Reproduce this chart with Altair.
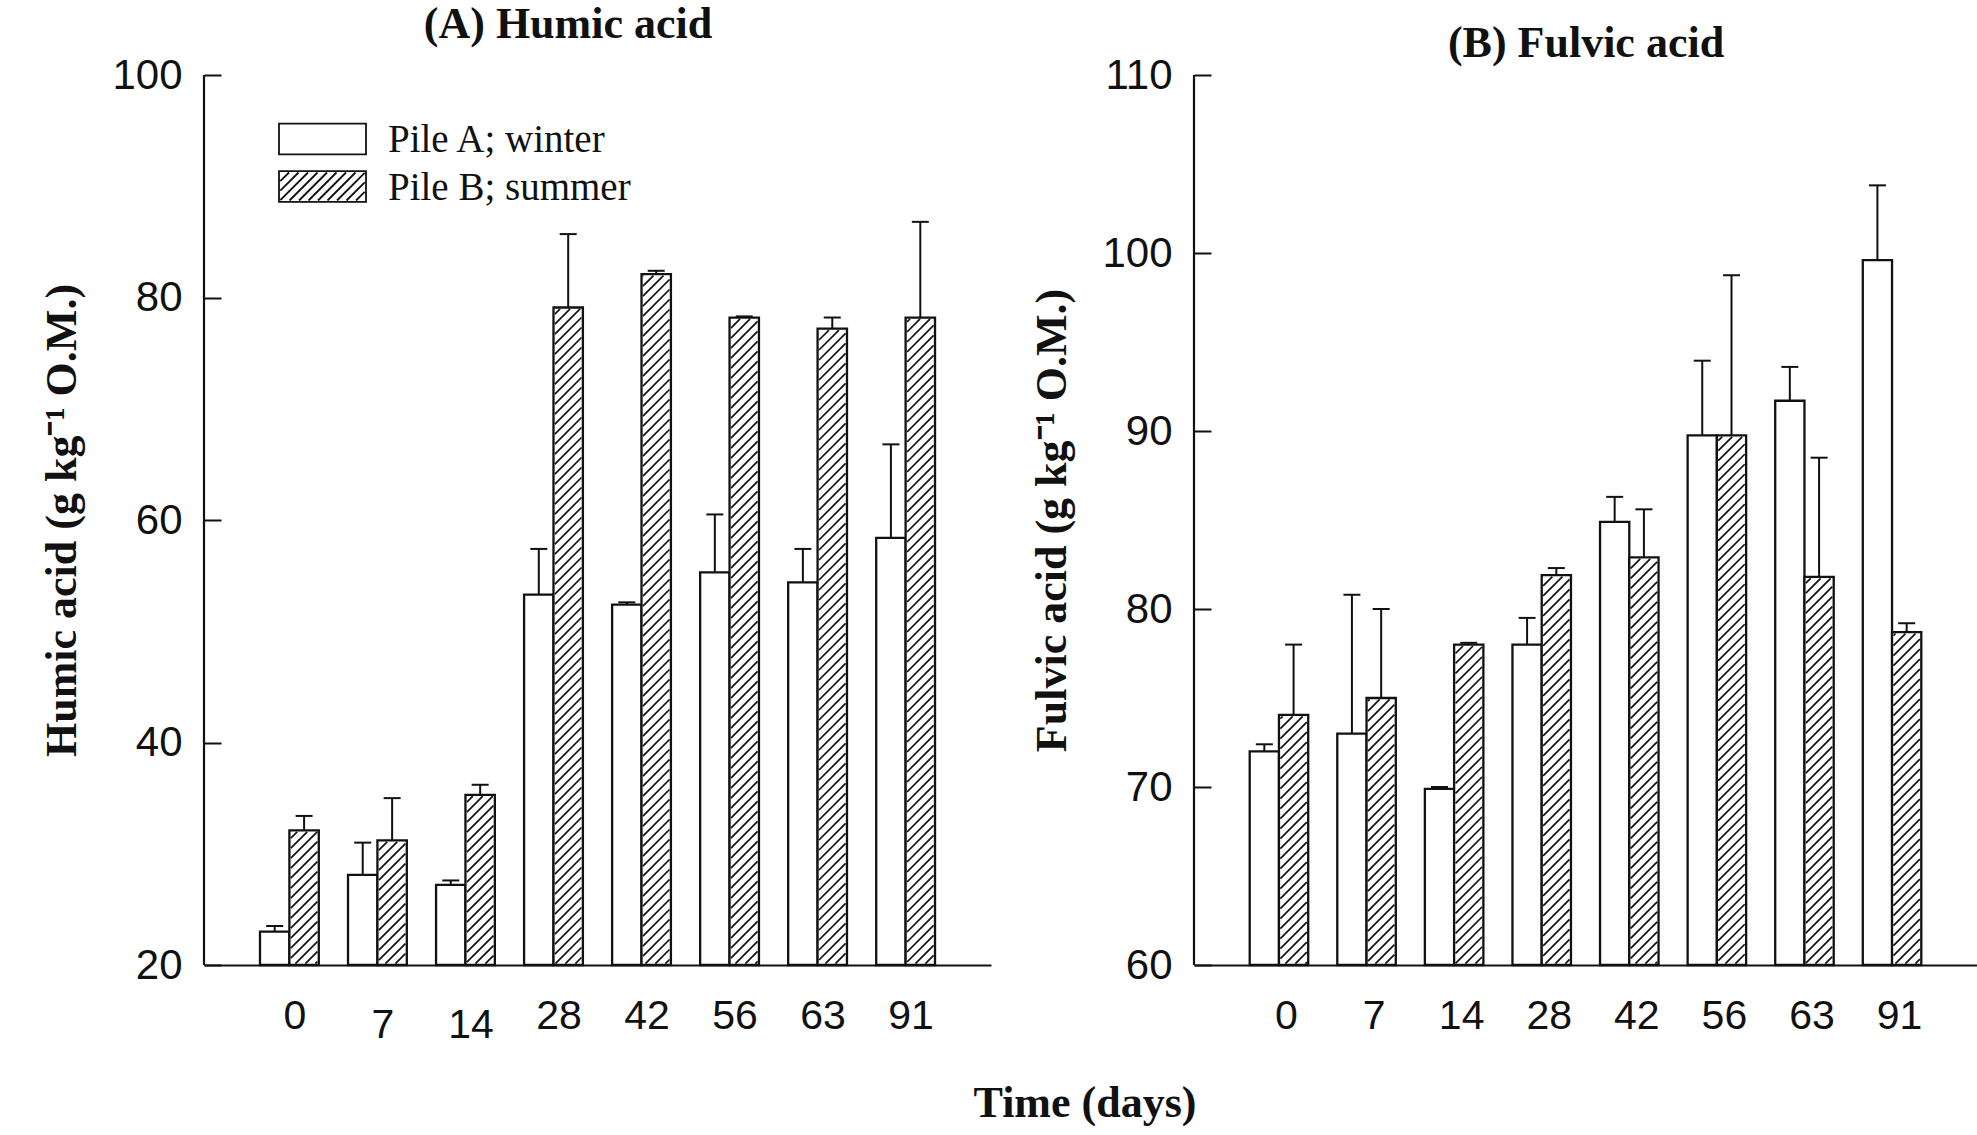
import math
import altair as alt
import pandas as pd

# ---- data -----------------------------------------------------------------
days = ["0", "7", "14", "28", "42", "56", "63", "91"]
piles = ["Pile A; winter", "Pile B; summer"]

humic_a = [23.0, 28.1, 27.2, 53.3, 52.4, 55.3, 54.4, 58.4]
humic_a_err = [0.5, 2.9, 0.4, 4.1, 0.2, 5.2, 3.0, 8.4]
humic_b = [32.1, 31.2, 35.3, 79.1, 82.1, 78.2, 77.2, 78.2]
humic_b_err = [1.3, 3.8, 0.9, 6.6, 0.3, 0.1, 1.0, 8.6]

fulvic_a = [72.0, 73.0, 69.9, 78.0, 84.9, 89.75, 91.7, 99.6]
fulvic_a_err = [0.4, 7.8, 0.1, 1.5, 1.4, 4.2, 1.9, 4.2]
fulvic_b = [74.05, 75.0, 78.0, 81.9, 82.9, 89.75, 81.8, 78.7]
fulvic_b_err = [3.95, 5.0, 0.1, 0.4, 2.7, 9.0, 6.7, 0.5]

humic_ticks = [20, 40, 60, 80, 100]
fulvic_ticks = [60, 70, 80, 90, 100, 110]

# ---- layout / style ---------------------------------------------------------
SERIF = "Liberation Serif"
SANS = "Liberation Sans"
INK = "#111111"
BAR = 0.334                 # bar width in units of one day-group step
X_LO, X_HI = -0.97, 7.97    # slot axis: group i is centred on i
HEIGHT = 890
HATCH_STEP = 10.0           # vertical distance between hatch lines (px)
HATCH_WIDTH = 1.7


def hatch_segments(x0, x1, y0, y1, sx, sy, ylo, inset=1.4):
    """Clip 45-degree '/' lines to a bar, returned in data units."""
    X0 = (x0 - X_LO) * sx + inset
    X1 = (x1 - X_LO) * sx - inset
    Y0 = (y0 - ylo) * sy + inset
    Y1 = (y1 - ylo) * sy - inset
    segs = []
    kmin = math.floor((Y0 - X1) / HATCH_STEP)
    kmax = math.ceil((Y1 - X0) / HATCH_STEP)
    for k in range(kmin, kmax + 1):
        c = k * HATCH_STEP
        xs = max(X0, Y0 - c)
        xe = min(X1, Y1 - c)
        if xe - xs > 0.4:
            segs.append({
                "hx0": xs / sx + X_LO, "hy0": (xs + c) / sy + ylo,
                "hx1": xe / sx + X_LO, "hy1": (xe + c) / sy + ylo,
            })
    return segs


def box_path(hatched, hw=43.5, hh=15.3, step=9.5):
    """Legend swatch as a custom symbol path (units of half-width)."""
    h = hh / hw
    p = f"M-1,{-h:.4f}H1V{h:.4f}H-1Z"
    if hatched:
        e = 0.03
        d = step / hw
        for k in range(-12, 13):
            c = k * d
            xa = max(-1 + e, c - (h - e))
            xb = min(1 - e, c + (h - e))
            if xb - xa > 0.02:
                p += f"M{xa:.4f},{c - xa:.4f}L{xb:.4f},{c - xb:.4f}"
    return p


def text_layer(text, x, y, size, weight="normal", font=SERIF,
               align="center", baseline="alphabetic"):
    return alt.Chart(pd.DataFrame({"t": [text]})).mark_text(
        font=font, fontSize=size, fontWeight=weight, color=INK,
        align=align, baseline=baseline,
    ).encode(text="t:N", x=alt.value(x), y=alt.value(y))


def panel(title, title_x, title_y, ytitle, ydom, yticks,
          a_vals, a_err, b_vals, b_err, width,
          label_pad, label_offset, xtitle=None, with_legend=False):
    ylo, yhi = ydom
    sx = width / (X_HI - X_LO)
    sy = HEIGHT / (yhi - ylo)

    rows, hatch = [], []
    for i, d in enumerate(days):
        rows.append(dict(day=d, pile=piles[0], x0=i - BAR, x1=i,
                         xc=i - BAR / 2, base=ylo, val=a_vals[i],
                         top=a_vals[i] + a_err[i]))
        rows.append(dict(day=d, pile=piles[1], x0=i, x1=i + BAR,
                         xc=i + BAR / 2, base=ylo, val=b_vals[i],
                         top=b_vals[i] + b_err[i]))
        hatch += hatch_segments(i, i + BAR, ylo, b_vals[i], sx, sy, ylo)
    df = pd.DataFrame(rows)
    dh = pd.DataFrame(hatch)

    xs = alt.Scale(domain=[X_LO, X_HI], nice=False, zero=False)
    ys = alt.Scale(domain=[ylo, yhi], nice=False, zero=False)

    label_expr = "[" + ",".join(f"'{d}'" for d in days) + "][datum.value]"
    xaxis = alt.Axis(
        values=list(range(len(days))), labelExpr=label_expr,
        ticks=False, grid=False, domain=True, domainColor=INK,
        domainWidth=2.2, labelFont=SANS, labelFontSize=41,
        labelColor=INK, labelPadding=label_pad, labelOffset=label_offset,
        labelFlush=False, labelOverlap=False, title=None,
    )
    yaxis = alt.Axis(
        values=yticks, title=ytitle, offset=-17, tickSize=17, tickWidth=2,
        tickColor=INK, domain=False, grid=False, labelFont=SANS,
        labelFontSize=42, labelColor=INK, labelPadding=22,
        labelOverlap=False,
        titleFont=SERIF, titleFontSize=44, titleFontWeight="bold",
        titleColor=INK, titleX=-159, titleBaseline="middle",
    )

    bars = alt.Chart(df).mark_rect(
        fill="white", stroke=INK, strokeWidth=2.3
    ).encode(
        x=alt.X("x0:Q", scale=xs, axis=xaxis),
        x2="x1:Q",
        y=alt.Y("base:Q", scale=ys, axis=yaxis),
        y2="val:Q",
    )
    lines = alt.Chart(dh).mark_rule(
        stroke=INK, strokeWidth=HATCH_WIDTH
    ).encode(
        x=alt.X("hx0:Q", scale=xs, axis=xaxis),
        y=alt.Y("hy0:Q", scale=ys, axis=yaxis),
        x2="hx1:Q", y2="hy1:Q",
    )
    err = alt.Chart(df).mark_rule(stroke=INK, strokeWidth=2).encode(
        x=alt.X("xc:Q", scale=xs, axis=xaxis),
        y=alt.Y("val:Q", scale=ys, axis=yaxis),
        y2="top:Q",
    )
    caps = alt.Chart(df).mark_tick(
        orient="horizontal", size=17, thickness=2, color=INK, opacity=1
    ).encode(
        x=alt.X("xc:Q", scale=xs, axis=xaxis),
        y=alt.Y("top:Q", scale=ys, axis=yaxis),
    )
    yline = alt.Chart(pd.DataFrame({"k": [0]})).mark_rule(
        stroke=INK, strokeWidth=2.2
    ).encode(x=alt.value(0), y=alt.value(0), y2=alt.value(HEIGHT))

    layers = [bars, lines, err, caps, yline,
              text_layer(title, title_x, title_y, 44, "bold")]

    if with_legend:
        for j, name in enumerate(piles):
            cy = 64 + 47.5 * j
            swatch = alt.Chart(pd.DataFrame({"pile": [name]})).mark_point(
                shape=box_path(j == 1), size=7569, filled=True,
                fill="white", stroke=INK, strokeWidth=1.8, opacity=1,
            ).encode(x=alt.value(118.5), y=alt.value(cy))
            label = alt.Chart(pd.DataFrame({"pile": [name]})).mark_text(
                font=SERIF, fontSize=39, color=INK, align="left",
                baseline="alphabetic",
            ).encode(text="pile:N", x=alt.value(184), y=alt.value(cy + 13))
            layers += [swatch, label]

    if xtitle:
        layers.append(text_layer(xtitle, -109, HEIGHT + 152, 44, "bold"))

    return alt.layer(*layers).properties(width=width, height=HEIGHT)


humic = panel("(A) Humic acid", 364, -37, "Humic acid (g kg\u207b\u00b9 O.M.)",
              (20, 100), humic_ticks, humic_a, humic_a_err, humic_b,
              humic_b_err, 787,
              {"condition": {"test": "datum.value == 1 || datum.value == 2",
                             "value": 40}, "value": 31},
              5, with_legend=True)
fulvic = panel("(B) Fulvic acid", 392, -18, "Fulvic acid (g kg\u207b\u00b9 O.M.)",
               (60, 110), fulvic_ticks, fulvic_a, fulvic_a_err, fulvic_b,
               fulvic_b_err, 783, 31, 7, xtitle="Time (days)")

chart = alt.hconcat(humic, fulvic, spacing=203, bounds="flush").properties(
    padding={"left": 40, "top": 3, "right": 0, "bottom": 0},
).configure(background="white").configure_view(stroke=None)

chart.save("out.html", embed_options={"renderer": "svg", "actions": False})
